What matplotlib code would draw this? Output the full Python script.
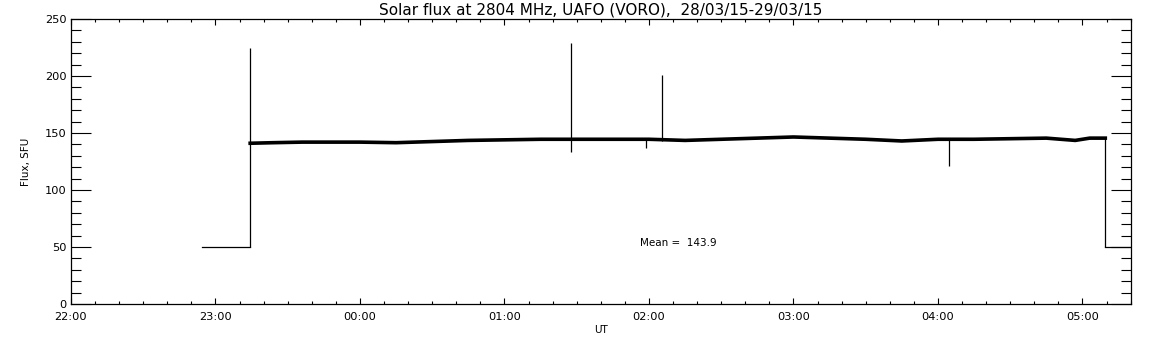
"""
Solar flux at 2804 MHz, UAFO (VORO) - 28/03/15-29/03/15
IDL-style daily record replot
"""

import matplotlib.pyplot as plt
import matplotlib.ticker as ticker

# ── data (hours from 00:00 of 28/03, >24 = next day) ───────────
# calibration / off-sun level
low_hours = [22.907, 23.24]
low_flux = [50, 50]
tail_hours = [29.158, 29.336]
tail_flux = [50, 50]

# quiet-sun level, ~10 min steps
base_hours = [23.24, 23.40, 23.60, 23.80, 24.00, 24.25, 24.50, 24.75, 25.00,
              25.25, 25.50, 25.75, 26.00, 26.25, 26.50, 26.75, 27.00, 27.25,
              27.50, 27.75, 28.00, 28.25, 28.50, 28.75, 28.95, 29.05, 29.158]
base_flux = [141.0, 141.5, 142.0, 142.0, 142.0, 141.5, 142.5, 143.5, 144.0,
             144.5, 144.5, 144.5, 144.5, 143.5, 144.5, 145.5, 146.5, 145.5,
             144.5, 143.0, 144.5, 144.5, 145.0, 145.5, 143.5, 145.5, 145.5]

# bursts and dips
spike_hours = [23.24, 25.463, 25.98, 26.088, 28.074]
spike_top = [225, 229, 145, 201, 145]
spike_bottom = [141, 133, 137, 143, 121]

mean_flux = 143.9

# ── plot ───────────────────────────────────────────────────────
fig = plt.figure(figsize=(11.52, 3.45), dpi=100)
ax = fig.add_axes([71 / 1152, 41 / 345, 1060 / 1152, 285 / 345])

lw = 0.9
ax.plot(low_hours, low_flux, color='black', linewidth=lw)
ax.plot(tail_hours, tail_flux, color='black', linewidth=lw)
# steps up / down
ax.vlines([low_hours[-1], tail_hours[0]], [low_flux[-1], tail_flux[0]],
          [base_flux[0], base_flux[-1]], color='black', linewidth=lw)
ax.plot(base_hours, base_flux, color='black', linewidth=2.6,
        solid_joinstyle='miter')
ax.vlines(spike_hours, spike_bottom, spike_top, color='black', linewidth=lw)

ax.text(25.94, 53.5, f'Mean =  {mean_flux:.1f}', fontsize=7.5,
        va='center', ha='left')

ax.set_xlim(22.0, 29.336)
ax.set_ylim(0, 250)

ax.xaxis.set_major_locator(ticker.MultipleLocator(1))
ax.xaxis.set_minor_locator(ticker.MultipleLocator(1 / 6))
ax.xaxis.set_major_formatter(
    ticker.FuncFormatter(lambda h, _: f'{int(round(h)) % 24:02d}:00'))
ax.yaxis.set_major_locator(ticker.MultipleLocator(50))
ax.yaxis.set_minor_locator(ticker.MultipleLocator(10))

ax.tick_params(axis='both', which='both', direction='in',
               top=True, right=True, width=0.8, labelsize=8.2)
ax.tick_params(axis='x', which='major', length=4.5, pad=6)
ax.tick_params(axis='x', which='minor', length=2.2)
ax.tick_params(axis='y', which='major', length=14.5, pad=3)
ax.tick_params(axis='y', which='minor', length=7.2)
for sp in ax.spines.values():
    sp.set_linewidth(0.9)

ax.set_title('Solar flux at 2804 MHz, UAFO (VORO),  28/03/15-29/03/15',
             fontsize=11, pad=3)
ax.set_xlabel('UT', fontsize=7.5, labelpad=2)
ax.set_ylabel('Flux, SFU', fontsize=7.5, labelpad=10)

plt.savefig('out.png', dpi=100)
